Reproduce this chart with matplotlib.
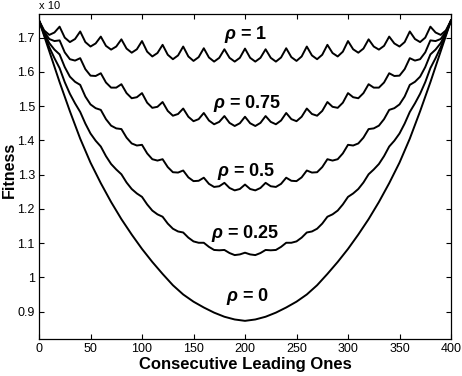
import matplotlib
matplotlib.use("Agg")
import matplotlib.pyplot as plt

# x positions (Consecutive Leading Ones)
x_fine = [0, 5, 10, 15, 20, 25, 30, 35, 40, 45, 50, 55, 60, 65, 70, 75, 80, 85, 90, 95,
          100, 105, 110, 115, 120, 125, 130, 135, 140, 145, 150, 155, 160, 165, 170, 175,
          180, 185, 190, 195, 200, 205, 210, 215, 220, 225, 230, 235, 240, 245, 250, 255,
          260, 265, 270, 275, 280, 285, 290, 295, 300, 305, 310, 315, 320, 325, 330, 335,
          340, 345, 350, 355, 360, 365, 370, 375, 380, 385, 390, 395, 400]
x_coarse = [0, 10, 20, 30, 40, 50, 60, 70, 80, 90, 100, 110, 120, 130, 140, 150, 160, 170,
            180, 190, 200, 210, 220, 230, 240, 250, 260, 270, 280, 290, 300, 310, 320, 330,
            340, 350, 360, 370, 380, 390, 400]

rho_1 = [1.750, 1.721, 1.708, 1.715, 1.732, 1.700, 1.687, 1.696, 1.718, 1.687, 1.674, 1.683,
         1.703, 1.676, 1.665, 1.674, 1.695, 1.668, 1.656, 1.666, 1.690, 1.659, 1.645, 1.655,
         1.679, 1.650, 1.637, 1.648, 1.674, 1.645, 1.632, 1.643, 1.669, 1.642, 1.630, 1.641,
         1.666, 1.641, 1.630, 1.641, 1.668,
         1.641, 1.630, 1.641, 1.666, 1.641, 1.630, 1.642, 1.669, 1.643, 1.632, 1.645, 1.674,
         1.648, 1.637, 1.650, 1.679, 1.655, 1.645, 1.659, 1.690, 1.666, 1.656, 1.668, 1.695,
         1.674, 1.665, 1.676, 1.703, 1.683, 1.674, 1.687, 1.718, 1.696, 1.687, 1.700, 1.732,
         1.715, 1.708, 1.721, 1.750]

rho_075 = [1.750, 1.717, 1.696, 1.690, 1.692, 1.657, 1.637, 1.633, 1.640, 1.608, 1.589, 1.588,
           1.596, 1.569, 1.554, 1.554, 1.564, 1.538, 1.523, 1.526, 1.538, 1.510, 1.495, 1.498,
           1.512, 1.486, 1.472, 1.477, 1.493, 1.469, 1.456, 1.462, 1.480, 1.458, 1.447, 1.454,
           1.471, 1.451, 1.442, 1.450, 1.469,
           1.450, 1.442, 1.451, 1.471, 1.454, 1.447, 1.458, 1.480, 1.462, 1.456, 1.469, 1.493,
           1.477, 1.472, 1.486, 1.512, 1.498, 1.495, 1.510, 1.538, 1.526, 1.523, 1.538, 1.564,
           1.554, 1.554, 1.569, 1.596, 1.588, 1.589, 1.608, 1.640, 1.633, 1.637, 1.657, 1.692,
           1.690, 1.696, 1.717, 1.750]

rho_05 = [1.750, 1.713, 1.684, 1.665, 1.651, 1.614, 1.586, 1.571, 1.562, 1.528, 1.505, 1.494,
          1.489, 1.462, 1.443, 1.435, 1.433, 1.408, 1.391, 1.385, 1.387, 1.362, 1.345, 1.341,
          1.345, 1.322, 1.307, 1.306, 1.312, 1.292, 1.281, 1.282, 1.291, 1.273, 1.264, 1.266,
          1.276, 1.261, 1.254, 1.258, 1.271,
          1.258, 1.254, 1.261, 1.276, 1.266, 1.264, 1.273, 1.291, 1.282, 1.281, 1.292, 1.312,
          1.306, 1.307, 1.322, 1.345, 1.341, 1.345, 1.362, 1.387, 1.385, 1.391, 1.408, 1.433,
          1.435, 1.443, 1.462, 1.489, 1.494, 1.505, 1.528, 1.562, 1.571, 1.586, 1.614, 1.651,
          1.665, 1.684, 1.713, 1.750]

rho_025 = [1.750, 1.709, 1.672, 1.640, 1.611, 1.570, 1.536, 1.508, 1.483, 1.449, 1.420, 1.399,
           1.382, 1.354, 1.331, 1.315, 1.301, 1.277, 1.258, 1.245, 1.235, 1.213, 1.195, 1.184,
           1.177, 1.157, 1.142, 1.134, 1.131, 1.116, 1.105, 1.101, 1.101, 1.089, 1.080, 1.079,
           1.080, 1.071, 1.065, 1.067, 1.072,
           1.067, 1.065, 1.071, 1.080, 1.079, 1.080, 1.089, 1.101, 1.101, 1.105, 1.116, 1.131,
           1.134, 1.142, 1.157, 1.177, 1.184, 1.195, 1.213, 1.235, 1.245, 1.258, 1.277, 1.301,
           1.315, 1.331, 1.354, 1.382, 1.399, 1.420, 1.449, 1.483, 1.508, 1.536, 1.570, 1.611,
           1.640, 1.672, 1.709, 1.750]

rho_0 = [1.750, 1.660, 1.570, 1.485, 1.405, 1.335, 1.275, 1.220, 1.170, 1.125, 1.083, 1.045,
         1.010, 0.977, 0.950, 0.929, 0.912, 0.897, 0.885, 0.877, 0.873,
         0.877, 0.885, 0.897, 0.912, 0.929, 0.950, 0.977, 1.010, 1.045, 1.083, 1.125, 1.170,
         1.220, 1.275, 1.335, 1.405, 1.485, 1.570, 1.660, 1.750]

labels = [r"$\mathbf{\rho}$ = 1", r"$\mathbf{\rho}$ = 0.75", r"$\mathbf{\rho}$ = 0.5",
          r"$\mathbf{\rho}$ = 0.25", r"$\mathbf{\rho}$ = 0"]
label_x = [201, 202, 201, 200, 203]
label_y = [1.708, 1.509, 1.308, 1.127, 0.945]

xticks = [0, 50, 100, 150, 200, 250, 300, 350, 400]
yticks = [0.9, 1.0, 1.1, 1.2, 1.3, 1.4, 1.5, 1.6, 1.7]
ytick_labels = ["0.9", "1", "1.1", "1.2", "1.3", "1.4", "1.5", "1.6", "1.7"]

plt.rcParams['font.family'] = ['Liberation Sans', 'DejaVu Sans']
plt.rcParams['mathtext.fontset'] = 'custom'
plt.rcParams['mathtext.it'] = 'Liberation Sans:italic:bold'
plt.rcParams['mathtext.bf'] = 'Liberation Sans:italic:bold'
plt.rcParams['mathtext.rm'] = 'Liberation Sans:bold'

fig = plt.figure(figsize=(4.62, 3.76), dpi=100)
ax = fig.add_axes([39/462, 1 - 339/376, (451-39)/462, (339-14)/376])

for ys in [rho_1, rho_075, rho_05, rho_025]:
    ax.plot(x_fine, ys, color='black', lw=1.4, solid_joinstyle='round')
ax.plot(x_coarse, rho_0, color='black', lw=1.4, solid_joinstyle='round')

for t, lx, ly in zip(labels, label_x, label_y):
    ax.text(lx, ly, t, ha='center', va='center', fontsize=13, fontweight='bold',
            color='black')

ax.set_xlim(0, 400)
ax.set_ylim(0.82, 1.769)
ax.set_xticks(xticks)
ax.set_yticks(yticks)
ax.set_yticklabels(ytick_labels)
ax.tick_params(direction='in', length=3.5, width=0.8, top=True, right=True,
               labelsize=9, pad=3)
for s in ax.spines.values():
    s.set_linewidth(0.9)

ax.set_xlabel("Consecutive Leading Ones", fontsize=12, fontweight='bold', labelpad=1)
ax.set_ylabel("Fitness", fontsize=11.5, fontweight='bold')
ax.yaxis.set_label_coords(-0.053, 0.52)

fig.text(39/462, 1 - 9/376, "x 10", fontsize=8, ha='left', va='baseline')

fig.savefig("out.png", dpi=100)
